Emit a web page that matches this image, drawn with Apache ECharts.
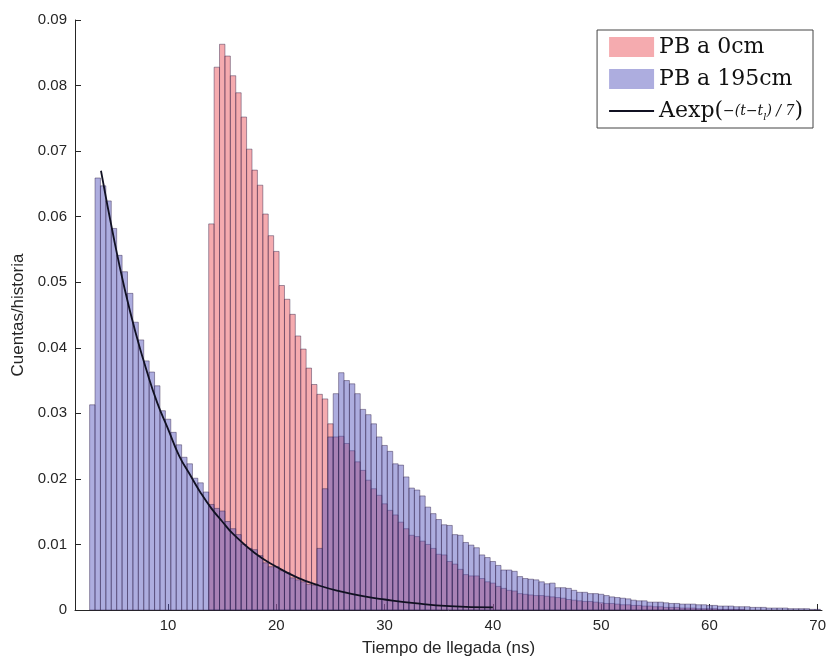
<!DOCTYPE html>
<html style="height: 100%">
<head>
    <meta charset="utf-8">
</head>
<body style="height: 100%; margin: 0; background: #fff">
<div id="chart_container" style="width: 829px; height: 662px"></div>
<script src="https://cdn.jsdelivr.net/npm/echarts@6/dist/echarts.min.js"></script>
<script type="text/javascript">

    // histogram bins are 0.5 ns wide
    var binWidth = 0.5;

    // PB a 195cm, first bin centred at 3.0 ns
    var blueStart = 3.0;
    var blueCounts = [
        0.0313, 0.0659, 0.0647, 0.0624, 0.0582, 0.0541, 0.0516, 0.0483, 0.0439, 0.0412,
        0.0380, 0.0363, 0.0342, 0.0304, 0.0291, 0.0271, 0.0252, 0.0233, 0.0223, 0.0201,
        0.0194, 0.0180,
        0.0161, 0.0155, 0.0151, 0.0135, 0.0124, 0.0115, 0.0100, 0.0094, 0.0092, 0.0083,
        0.0072, 0.0066, 0.0066, 0.0060, 0.0057, 0.0049, 0.0046, 0.0043, 0.0039, 0.0038,
        0.0094, 0.0185, 0.0264,
        0.0330, 0.0362, 0.0350, 0.0345, 0.0330, 0.0306, 0.0298, 0.0284, 0.0264, 0.0251,
        0.0242, 0.0223, 0.0221, 0.0203, 0.0186, 0.0183, 0.0174, 0.0157, 0.0147, 0.0138,
        0.0130, 0.0129, 0.0115, 0.0114, 0.0103, 0.0099, 0.0095, 0.0084, 0.0080, 0.0074,
        0.0068, 0.0061, 0.0061, 0.0059, 0.0051, 0.0048, 0.0047, 0.0046, 0.0043,
        0.0040, 0.0041, 0.0034, 0.0034, 0.0033, 0.0030, 0.0027, 0.0027, 0.0025, 0.0025,
        0.0024, 0.0022, 0.0020, 0.0019, 0.0018, 0.0017, 0.0015, 0.0014, 0.0014, 0.0012,
        0.0012, 0.0012, 0.0011, 0.0010, 0.0010, 0.0009, 0.0009, 0.0009, 0.0008, 0.0008,
        0.0007, 0.0007, 0.0006, 0.0006, 0.0006, 0.0005, 0.0005, 0.0005, 0.0004, 0.0004,
        0.0004, 0.0003, 0.0003, 0.0003, 0.0003, 0.0002, 0.0002, 0.0002, 0.0002, 0.0001,
        0.0001
    ];

    // PB a 0cm, first bin centred at 14.0 ns
    var redStart = 14.0;
    var redCounts = [
        0.0589, 0.0828, 0.0863, 0.0845, 0.0815, 0.0789, 0.0752, 0.0703, 0.0671, 0.0648,
        0.0604, 0.0571, 0.0547, 0.0495, 0.0474, 0.0451, 0.0418, 0.0398, 0.0369, 0.0344,
        0.0329, 0.0322, 0.0284,
        0.0264, 0.0265, 0.0254, 0.0243, 0.0226, 0.0213, 0.0198, 0.0185, 0.0175, 0.0162,
        0.0152, 0.0145, 0.0134, 0.0124, 0.0114, 0.0112, 0.0105, 0.0100, 0.0094, 0.0085,
        0.0084, 0.0074, 0.0070, 0.0062, 0.0054, 0.0052, 0.0052, 0.0048, 0.0043, 0.0041,
        0.0036, 0.0033, 0.0030, 0.0029, 0.0025, 0.0024, 0.0023, 0.0022, 0.0022,
        0.0021, 0.0020, 0.0019, 0.0018, 0.0016, 0.0015, 0.0014, 0.0013, 0.0013, 0.0012,
        0.0011, 0.0010, 0.0010, 0.0009, 0.0008, 0.0008, 0.0007, 0.0007, 0.0006, 0.0006,
        0.0005, 0.0005, 0.0004, 0.0004, 0.0004, 0.0003, 0.0003, 0.0003, 0.0002, 0.0002,
        0.0002, 0.0002, 0.0001, 0.0001, 0.0001, 0.0001, 0.0001
    ];

    // fitted exponential, points
    var fitTimes = [3.8, 5, 6, 7, 8, 9, 10, 11, 12, 13, 14, 15, 16, 18, 20, 22, 24, 26, 28, 30, 33, 36, 40];
    var fitValues = [0.0670, 0.0566, 0.0489, 0.0423, 0.0366, 0.0316, 0.0276, 0.0236, 0.0207, 0.0179,
        0.0155, 0.0135, 0.0116, 0.0087, 0.0066, 0.0049, 0.0037, 0.0028, 0.0021, 0.0016,
        0.0010, 0.0006, 0.0004];

    var xTicks = [10, 20, 30, 40, 50, 60, 70];

    var serifFont = 'DejaVu Serif';
    var sansFont = 'Liberation Sans';
    var edgeColor = 'rgba(45, 30, 70, 0.55)';
    var redFill = 'rgba(235, 80, 88, 0.48)';
    var blueFill = 'rgba(84, 84, 188, 0.48)';
    var fitColor = '#111122';

    function toPairs(start, counts) {
        return counts.map(function (v, i) {
            return [start + i * binWidth, v];
        });
    }

    function renderBin(params, api) {
        var t = api.value(0);
        var v = api.value(1);
        var p0 = api.coord([t - binWidth / 2, 0]);
        var p1 = api.coord([t + binWidth / 2, v]);
        return {
            type: 'rect',
            shape: {x: p0[0], y: p1[1], width: p1[0] - p0[0], height: p0[1] - p1[1]},
            style: {fill: api.visual('color'), stroke: edgeColor, lineWidth: 0.8}
        };
    }

    var fitData = fitTimes.map(function (t, i) {
        return [t, fitValues[i]];
    });

    var chart = echarts.init(document.getElementById('chart_container'), null, {renderer: 'canvas'});

    var option = {
        animation: false,
        backgroundColor: '#fff',
        grid: {left: 75, right: 4, top: 20, bottom: 50},
        legend: {
            orient: 'vertical',
            right: 16,
            top: 30,
            align: 'left',
            padding: [6, 10, 6, 12],
            itemGap: 10,
            itemWidth: 45,
            itemHeight: 20,
            borderColor: '#444',
            borderWidth: 1,
            backgroundColor: '#fff',
            textStyle: {
                fontFamily: serifFont,
                fontSize: 22,
                color: '#111',
                rich: {
                    n: {fontFamily: serifFont, fontSize: 22, color: '#111'},
                    f: {fontFamily: serifFont, fontSize: 14, fontStyle: 'italic', color: '#111'},
                    s: {fontFamily: serifFont, fontSize: 10, fontStyle: 'italic', color: '#111', verticalAlign: 'bottom'}
                }
            },
            formatter: function (name) {
                if (name === 'fit') {
                    return '{n|Aexp(}{f|−(t−t}{s|l}{f|) / 7}{n|)}';
                }
                return name;
            },
            data: [
                {name: 'PB a 0cm', icon: 'rect'},
                {name: 'PB a 195cm', icon: 'rect'},
                {name: 'fit', icon: 'path://M0,0 H45 V2 H0 Z', itemStyle: {color: fitColor}}
            ]
        },
        xAxis: {
            type: 'value',
            min: 1.4,
            max: 70.4,
            name: 'Tiempo de llegada (ns)',
            nameLocation: 'middle',
            nameGap: 30,
            nameTextStyle: {fontFamily: sansFont, fontSize: 17, color: '#262626'},
            splitLine: {show: false},
            axisLine: {lineStyle: {color: '#262626', width: 1}},
            axisTick: {inside: true, length: 6, customValues: xTicks, lineStyle: {color: '#262626'}},
            axisLabel: {customValues: xTicks, fontFamily: sansFont, fontSize: 15, color: '#262626', margin: 8}
        },
        yAxis: {
            type: 'value',
            min: 0,
            max: 0.09,
            interval: 0.01,
            name: 'Cuentas/historia',
            nameLocation: 'middle',
            nameGap: 48,
            nameRotate: 90,
            nameTextStyle: {fontFamily: sansFont, fontSize: 17, color: '#262626'},
            splitLine: {show: false},
            axisLine: {show: true, lineStyle: {color: '#262626', width: 1}},
            axisTick: {show: true, inside: true, length: 6, lineStyle: {color: '#262626'}},
            axisLabel: {
                fontFamily: sansFont, fontSize: 15, color: '#262626', margin: 8,
                formatter: function (v) {
                    return v === 0 ? '0' : v.toFixed(2);
                }
            }
        },
        series: [
            {
                name: 'PB a 0cm',
                type: 'custom',
                renderItem: renderBin,
                itemStyle: {color: redFill},
                encode: {x: 0, y: 1},
                data: toPairs(redStart, redCounts),
                z: 2
            },
            {
                name: 'PB a 195cm',
                type: 'custom',
                renderItem: renderBin,
                itemStyle: {color: blueFill},
                encode: {x: 0, y: 1},
                data: toPairs(blueStart, blueCounts),
                z: 3
            },
            {
                name: 'fit',
                type: 'line',
                smooth: true,
                symbol: 'none',
                lineStyle: {color: fitColor, width: 1.8},
                itemStyle: {color: fitColor},
                data: fitData,
                z: 5
            }
        ]
    };

    chart.setOption(option);
</script>
</body>
</html>
